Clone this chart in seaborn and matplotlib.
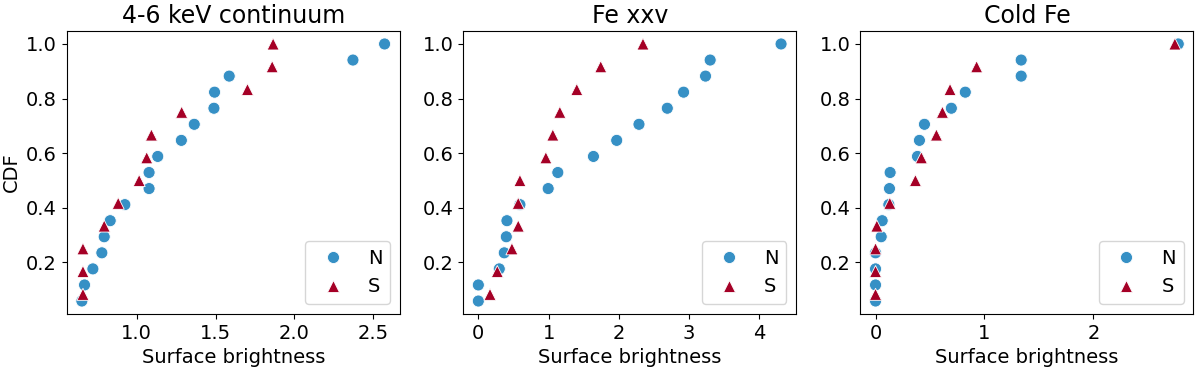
import numpy as np
import pandas as pd
import matplotlib
matplotlib.use("Agg")
import matplotlib.pyplot as plt
import seaborn as sns

titles = ["4-6 keV continuum", "Fe xxv", "Cold Fe"]

n_cdf = [i / 17 for i in range(1, 18)]
s_cdf = [i / 12 for i in range(1, 13)]

cont_N = [0.651, 0.668, 0.721, 0.778, 0.793, 0.831, 0.924, 1.078, 1.078, 1.133,
          1.283, 1.365, 1.490, 1.494, 1.587, 2.373, 2.574]
cont_S = [0.658, 0.658, 0.658, 0.793, 0.882, 1.015, 1.063, 1.093, 1.285, 1.703,
          1.860, 1.866]

fexxv_N = [0.0, 0.0, 0.298, 0.369, 0.398, 0.407, 0.592, 0.994, 1.131, 1.638,
           1.969, 2.286, 2.689, 2.921, 3.233, 3.299, 4.308]
fexxv_S = [0.166, 0.270, 0.478, 0.568, 0.568, 0.592, 0.961, 1.060, 1.160, 1.401,
           1.742, 2.343]

cold_N = [0.0, 0.0, 0.0, 0.0, 0.052, 0.061, 0.122, 0.128, 0.134, 0.385,
          0.403, 0.449, 0.696, 0.824, 1.337, 1.337, 2.779]
cold_S = [0.0, 0.0, 0.0, 0.012, 0.131, 0.366, 0.421, 0.559, 0.614, 0.684,
          0.928, 2.748]

panels = [(cont_N, cont_S), (fexxv_N, fexxv_S), (cold_N, cold_S)]

palette = {"N": "#3690c5", "S": "#a50026"}
markers = {"N": "o", "S": "^"}

fig = plt.figure(figsize=(12, 3.75), dpi=100)
lefts = [0.0556, 0.386, 0.717]
width = 0.2775
bottom, top = 0.163, 0.917

for i, (title, (xn, xs)) in enumerate(zip(titles, panels)):
    ax = fig.add_axes([lefts[i], bottom, width, top - bottom])
    df = pd.DataFrame({
        "x": list(xn) + list(xs),
        "cdf": n_cdf + s_cdf,
        "region": ["N"] * len(xn) + ["S"] * len(xs),
    })
    sns.scatterplot(data=df, x="x", y="cdf", hue="region", style="region",
                    palette=palette, markers=markers, s=75, ax=ax,
                    edgecolor="white", linewidth=0.6)
    ax.set_title(title, fontsize=17)
    ax.set_xlabel("Surface brightness", fontsize=14)
    ax.set_ylabel("CDF" if i == 0 else "", fontsize=14)
    ax.tick_params(labelsize=14)
    ax.set_yticks([0.2, 0.4, 0.6, 0.8, 1.0])
    ax.legend(loc="lower right", fontsize=14, title=None)

fig.savefig("out.png", dpi=100)
